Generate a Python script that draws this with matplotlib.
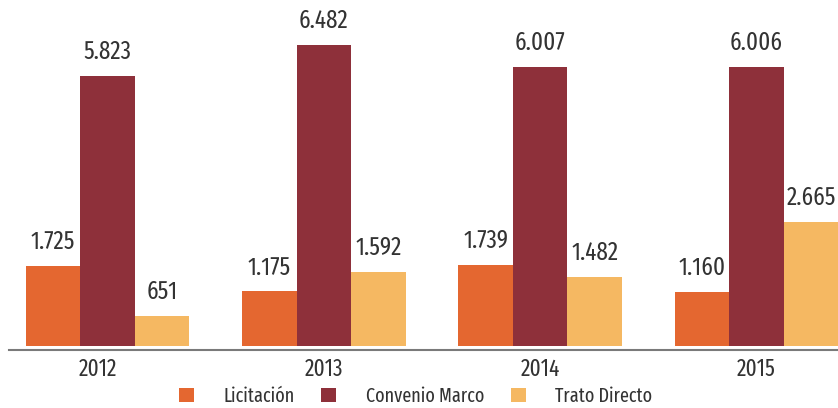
import numpy as np
import matplotlib
matplotlib.use('Agg')
import matplotlib.pyplot as plt
from matplotlib.transforms import ScaledTranslation

# Datos
anios = ['2012', '2013', '2014', '2015']
series = ['Licitación', 'Convenio Marco', 'Trato Directo']
licitacion = [1725, 1175, 1739, 1160]
convenio_marco = [5823, 6482, 6007, 6006]
trato_directo = [651, 1592, 1482, 2665]
etiquetas = [
    ['1.725', '1.175', '1.739', '1.160'],
    ['5.823', '6.482', '6.007', '6.006'],
    ['651', '1.592', '1.482', '2.665'],
]
colores = ['#E46730', '#8E303A', '#F5B862']

plt.rcParams['font.family'] = ['Fira Sans Extra Condensed', 'Fira Sans Condensed', 'DejaVu Sans']
texto = '#333333'

fig = plt.figure(figsize=(8.38, 4.08), dpi=100)
ax = fig.add_axes([9 / 838, (408 - 349.5) / 408, 829 / 838, 349.5 / 408])

x = np.arange(len(anios))
ancho = 0.252
valores = [licitacion, convenio_marco, trato_directo]
for i, (vals, col, nombre) in enumerate(zip(valores, colores, series)):
    pos = x + (i - 1) * ancho
    ax.bar(pos, vals, width=ancho, color=col, label=nombre, linewidth=0)
    for xp, v, lab in zip(pos, vals, etiquetas[i]):
        ax.annotate(lab, (xp, v), xytext=(0, 12.2), textcoords='offset points',
                    ha='center', va='baseline', fontsize=18, color=texto)

ax.set_xlim(-0.455, 3.377)
ax.set_ylim(-75, 7457)
ax.set_xticks(x)
ax.set_xticklabels(anios, fontsize=16.7, color=texto)
ax.tick_params(axis='x', length=0, pad=6)
ax.set_yticks([])
for s in ['top', 'right', 'left']:
    ax.spines[s].set_visible(False)
ax.spines['bottom'].set_color('#7a7a7a')
ax.spines['bottom'].set_linewidth(1.5)

# la etiqueta 2012 esta corrida a la izquierda en el original
primera = ax.get_xticklabels()[0]
primera.set_transform(primera.get_transform() + ScaledTranslation(-9 / 100, 0, fig.dpi_scale_trans))

fig.legend(loc='center', bbox_to_anchor=(415.5 / 838, 1 - 396 / 408), ncol=3,
           frameon=False, fontsize=14.2, handlelength=0.76, handleheight=0.76,
           handletextpad=1.5, columnspacing=1.35, borderpad=0,
           labelcolor=texto)

fig.savefig('out.png', dpi=100)
